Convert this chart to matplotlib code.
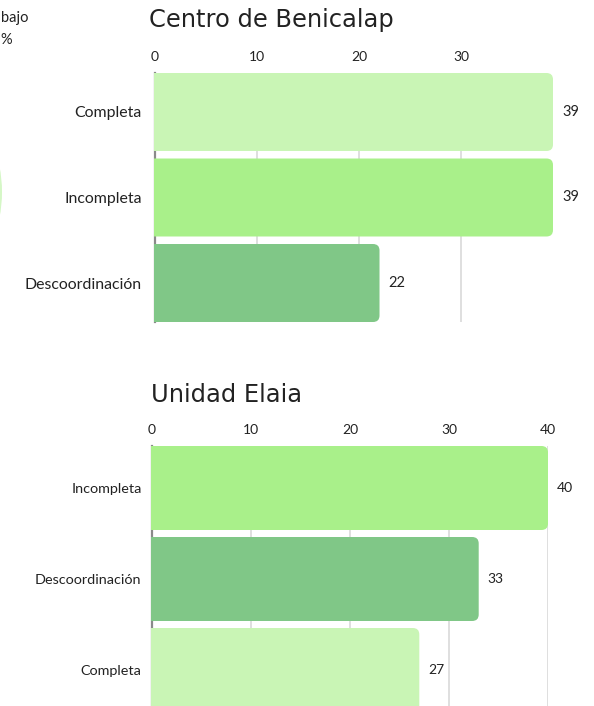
import matplotlib
matplotlib.use("Agg")
import matplotlib.pyplot as plt
from matplotlib.patches import FancyBboxPatch, Circle

# ---- data ----
top_title = "Centro de Benicalap"
top_categories = ["Completa", "Incompleta", "Descoordinación"]
top_values = [39, 39, 22]
top_ticks = [0, 10, 20, 30]

bot_title = "Unidad Elaia"
bot_categories = ["Incompleta", "Descoordinación", "Completa"]
bot_values = [40, 33, 27]
bot_ticks = [0, 10, 20, 30, 40]

color_map = {"Completa": "#c9f5b5", "Incompleta": "#a9f08a", "Descoordinación": "#80c787"}

W, H = 594, 706
fig = plt.figure(figsize=(W / 100, H / 100), dpi=100)
fig.patch.set_facecolor("white")

LAB = "Lato"
TIT = "DejaVu Sans"
LEFT_PAD_PX = 1.2


def px_axes(x0, y0, x1, y1):
    # pixel box (top-left origin) to figure fraction; extra pad on left
    x0p = x0 - LEFT_PAD_PX
    return fig.add_axes([x0p / W, 1 - y1 / H, (x1 - x0p) / W, (y1 - y0) / H])


def draw(ax, cats, vals, ticks, xmax, bh, lab_fs, val_fs, tick_fs, lab_pad):
    n = len(cats)
    # spines first (set_position resets tick properties)
    for s in ["top", "right", "bottom"]:
        ax.spines[s].set_visible(False)
    ax.spines["left"].set_position(("data", 0))
    ax.spines["left"].set_color("#8a8a8a")
    ax.spines["left"].set_linewidth(1.6)
    ax.spines["left"].set_zorder(1)
    ax.set_facecolor("none")

    fig.canvas.draw()
    bb = ax.get_window_extent()
    ppx = (bb.width - LEFT_PAD_PX) / xmax
    xmin = -LEFT_PAD_PX / ppx
    ylo, yhi = n - 1 + bh / 2, -bh / 2
    ppy = bb.height / (ylo - yhi)
    bars = ax.barh(range(n), vals, height=bh,
                   color=[color_map[c] for c in cats], zorder=3)
    r_px = 6.5
    r = r_px / ppx
    for b in bars:
        x, y, w, h = b.get_x(), b.get_y(), b.get_width(), b.get_height()
        b.set_visible(False)
        p = FancyBboxPatch((x - 3 * r, y), w + 3 * r, h,
                           boxstyle=f"round,pad=0,rounding_size={r}",
                           mutation_aspect=ppx / ppy,
                           facecolor=b.get_facecolor(), edgecolor="none",
                           zorder=3)
        ax.add_patch(p)
    for i, v in enumerate(vals):
        ax.text(v + 9 / ppx, i, f"{v}", va="center", ha="left",
                fontsize=val_fs, family=LAB, color="#222222", clip_on=False)
    ax.set_xlim(xmin, xmax)
    ax.set_ylim(ylo, yhi)
    ax.set_yticks(range(n))
    ax.set_yticklabels(cats, fontsize=lab_fs, family=LAB, color="#222222")
    ax.set_xticks(ticks)
    ax.set_xticklabels([str(t) for t in ticks], fontsize=tick_fs, family=LAB,
                       color="#222222")
    ax.xaxis.tick_top()
    ax.tick_params(axis="both", length=0)
    ax.tick_params(axis="y", pad=lab_pad)
    ax.tick_params(axis="x", pad=7)
    ax.grid(axis="x", color="#d6d6d6", linewidth=1.1, zorder=0)
    ax.set_axisbelow(True)


ax1 = px_axes(155, 73, 553, 322)
draw(ax1, top_categories, top_values, top_ticks, 39, 0.912, 11.4, 10.5, 10, 9.5)

ax2 = px_axes(152, 446, 548, 712)
draw(ax2, bot_categories, bot_values, bot_ticks, 40, 0.923, 10.4, 10, 10, 7.5)

fig.text(149 / W, 1 - 20 / H, top_title, fontsize=17.4, family=TIT,
         color="#222222", va="center", ha="left")
fig.text(151 / W, 1 - 395 / H, bot_title, fontsize=17.4, family=TIT,
         color="#222222", va="center", ha="left")

# partially visible elements from an adjacent panel on the left
fig.text(0.5 / W, 1 - 18 / H, "bajo", fontsize=10.5, family=LAB,
         color="#222222", va="center", ha="left")
fig.text(0.5 / W, 1 - 40 / H, "%", fontsize=10.5, family=LAB,
         color="#222222", va="center", ha="left")
circ = Circle((-131, H - 192), 133, transform=None, facecolor="#d5f7c6",
              edgecolor="none")
fig.patches.append(circ)

fig.savefig("out.png", dpi=100, facecolor="white")
